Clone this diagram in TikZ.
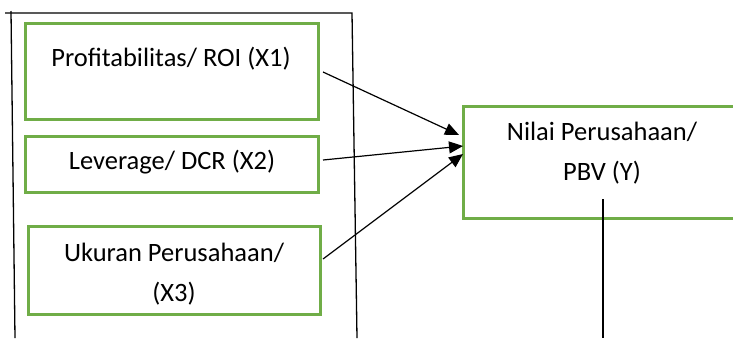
\documentclass[tikz,border=0pt]{standalone}
\usepackage{fontspec}
\setmainfont{Carlito}
\usetikzlibrary{arrows.meta}
\definecolor{boxgreen}{RGB}{112,173,71}
\tikzset{varbox/.style={draw=boxgreen, line width=3pt, rectangle, inner sep=0pt, outer sep=0pt},
%text inside the boxes
lbl/.style={font=\fontsize{26.5}{40}\selectfont, align=center, inner sep=0pt},
link/.style={line width=1.2pt, -{Triangle[length=14pt,width=12pt]}}}

\begin{document}
\begin{tikzpicture}[x=1pt,y=-1pt]
\useasboundingbox (0,0) rectangle (733,338);
\clip (0,0) rectangle (733,338);
% frame
\draw[line width=1.3pt] (5,13) -- (352,13) -- (357,338);
\draw[line width=1.3pt] (11,11) -- (15,338);

% variable boxes
\node[varbox, minimum width=293pt, minimum height=96pt] (x1) at (171.5,71) {};
\node[varbox, minimum width=293pt, minimum height=56pt] (x2) at (171.5,164) {};
\node[varbox, minimum width=292pt, minimum height=88pt] (x3) at (174,270) {};
\node[varbox, minimum width=300pt, minimum height=112pt] (y) at (613,162) {};

%labels
\node[lbl] (tx1) at (171,59) {Profitabilitas/ ROI (X1)};
\node[lbl] (tx2) at (172,162) {Leverage/ DCR (X2)};
\node[lbl] (tx3) at (174,274) {Ukuran Perusahaan/\\(X3)};
\node[lbl] (ty) at (602,153) {Nilai Perusahaan/\\PBV (Y)};

% arrows
\draw[link] ([xshift=5pt,yshift=-1pt]x1.east) -- ([xshift=-4pt,yshift=27pt]y.west);
\draw[link] ([xshift=5pt,yshift=4pt]x2.east) -- ([yshift=16pt]y.west);
\draw[link] ([xshift=3pt,yshift=11pt]x3.east) -- ([yshift=8pt]y.west);

\coordinate (ytop) at (603,199);
\coordinate (ybot) at (603,338);
\draw[line width=1.2pt] (ytop) -- (ybot);
\end{tikzpicture}
\end{document}
